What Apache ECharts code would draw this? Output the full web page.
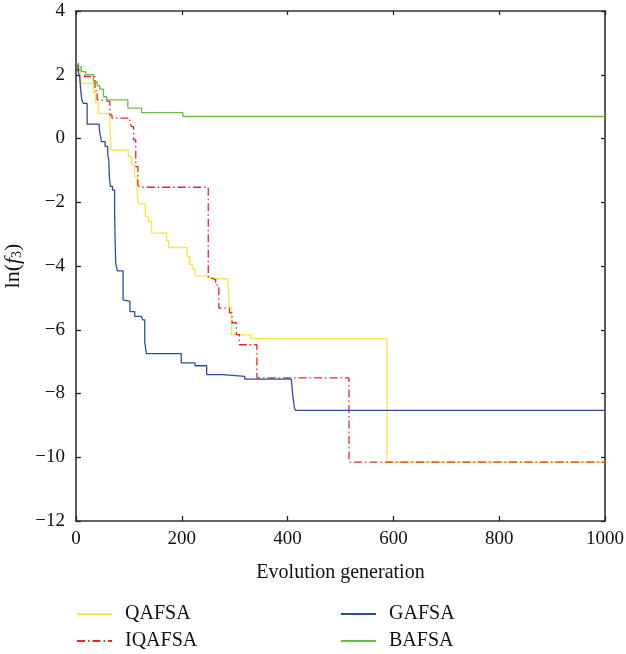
<!DOCTYPE html>
<html><head><meta charset="utf-8">
<script src="https://cdn.jsdelivr.net/npm/echarts@6/dist/echarts.min.js"></script>
<style>html,body{margin:0;padding:0;background:#fff}#c{width:626px;height:654px}</style>
</head><body><div id="c"></div>
<script>
const seriesNames = ['QAFSA','IQAFSA','GAFSA','BAFSA'];
const xTicks = [0,200,400,600,800,1000];
const yTicks = [-12,-10,-8,-6,-4,-2,0,2,4];
const qafsa = [[0,2.3],[4,2.1],[8,1.9],[11,1.73],[33,1.45],[37,1.12],[42,0.79],[64,0.61],[66,-0.36],[99,-0.57],[105,-0.83],[111,-1.19],[115,-1.6],[118,-2.05],[131,-2.46],[137,-2.6],[143,-2.97],[171,-3.2],[175,-3.42],[210,-3.7],[215,-3.96],[220,-4.1],[225,-4.31],[253,-4.4],[287,-4.53],[290,-5.3],[294,-6.16],[331,-6.28],[588,-10.15],[1000,-10.15]];
const iqafsa = [[0,2.3],[3,2.15],[7,2.09],[16,1.94],[36,1.5],[40,1.21],[45,1.16],[64,0.74],[68,0.64],[102,0.5],[105,0.37],[109,-0.04],[113,-0.88],[117,-1.45],[120,-1.53],[250,-4.37],[256,-4.43],[264,-4.6],[270,-5.32],[290,-5.47],[295,-5.78],[303,-6.15],[309,-6.47],[342,-7.51],[516,-10.15],[1000,-10.15]];
const gafsa = [[0,2.3],[4,2.1],[7,1.94],[9,1.5],[11,1.21],[14,1.1],[21,0.45],[44,0.3],[46,0.1],[48,-0.1],[55,-0.25],[60,-0.5],[62,-0.67],[63,-1.2],[65,-1.5],[69,-1.62],[73,-2.4],[74,-3.2],[75,-3.9],[78,-4.15],[89,-5.06],[92,-5.11],[102,-5.43],[111,-5.58],[124,-5.61],[126,-5.69],[130,-6.4],[133,-6.75],[199,-7.04],[225,-7.13],[247,-7.41],[277,-7.46],[319,-7.55],[407,-7.6],[410,-8.1],[413,-8.45],[415,-8.53],[1000,-8.53]];
const bafsa = [[0,2.35],[5,2.25],[10,2.1],[18,2.0],[33,1.78],[40,1.65],[45,1.55],[52,1.31],[58,1.21],[98,0.95],[124,0.81],[202,0.69],[1000,0.69]];
const colors = ['#f2ea3e','#e8262a','#2d4d9e','#6cbb4a'];
const font = 'Liberation Serif';
const chart = echarts.init(document.getElementById('c'));
const mkSeries = (name, data, color, dashed) => ({
  name, type:'line', data, step:'end', symbol:'none', showSymbol:false,
  lineStyle:{color, width:1.3, type: dashed ? [8,3,1.5,3] : 'solid'},
  itemStyle:{color}, animation:false
});
const tickAxisCommon = (len) => ({
  axisLine:{show:true, onZero:false, lineStyle:{color:'#333', width:1.6}},
  axisTick:{show:true, inside:true, length:len, lineStyle:{color:'#222', width:1.3}},
  splitLine:{show:false}
});
const mkLegend = (name, left, top) => ({
  data:[name], orient:'horizontal', left, top, padding:0,
  itemWidth:35, itemHeight:14,
  itemStyle:{opacity:0, borderWidth:0},
  textStyle:{fontFamily:font, fontSize:20, color:'#111', padding:[0,0,0,8]}
});
chart.setOption({
  animation:false,
  grid:{left:76, right:21, top:11, bottom:133, outerBoundsMode:'none', containLabel:false},
  xAxis:[
    Object.assign({type:'value', min:0, max:1000, interval:200, position:'bottom',
      name:'Evolution generation', nameLocation:'middle', nameGap:42,
      nameTextStyle:{fontFamily:font, fontSize:20, color:'#111'},
      axisLabel:{fontFamily:font, fontSize:19, color:'#111', margin:9,
        formatter:v=>xTicks.includes(v)?String(v):''}}, tickAxisCommon(5)),
    Object.assign({type:'value', min:0, max:1000, interval:200, position:'top',
      axisLabel:{show:false}}, tickAxisCommon(4))
  ],
  yAxis:[
    Object.assign({type:'value', min:-12, max:4, interval:2, position:'left',
      name:'{n|ln(}{i|f}{s|3}{n|)}', nameLocation:'middle', nameGap:43, nameRotate:90,
      nameTextStyle:{rich:{
        n:{fontFamily:font, fontSize:22, color:'#111'},
        i:{fontFamily:font, fontSize:22, fontStyle:'italic', color:'#111'},
        s:{fontFamily:font, fontSize:14, color:'#111', verticalAlign:'bottom', padding:[9,0,0,0]}
      }},
      axisLabel:{fontFamily:font, fontSize:19, color:'#111', margin:11,
        formatter:v=>yTicks.includes(v)?(v<0?'\u2212'+Math.abs(v):String(v)):''}}, tickAxisCommon(5)),
    Object.assign({type:'value', min:-12, max:4, interval:2, position:'right',
      axisLabel:{show:false}}, tickAxisCommon(4))
  ],
  legend:[
    mkLegend(seriesNames[0], 76, 604),
    mkLegend(seriesNames[1], 76, 631),
    mkLegend(seriesNames[2], 340, 604),
    mkLegend(seriesNames[3], 340, 631)
  ],
  series:[
    mkSeries(seriesNames[0], qafsa, colors[0], false),
    mkSeries(seriesNames[1], iqafsa, colors[1], true),
    mkSeries(seriesNames[2], gafsa, colors[2], false),
    mkSeries(seriesNames[3], bafsa, colors[3], false)
  ]
});
</script></body></html>
